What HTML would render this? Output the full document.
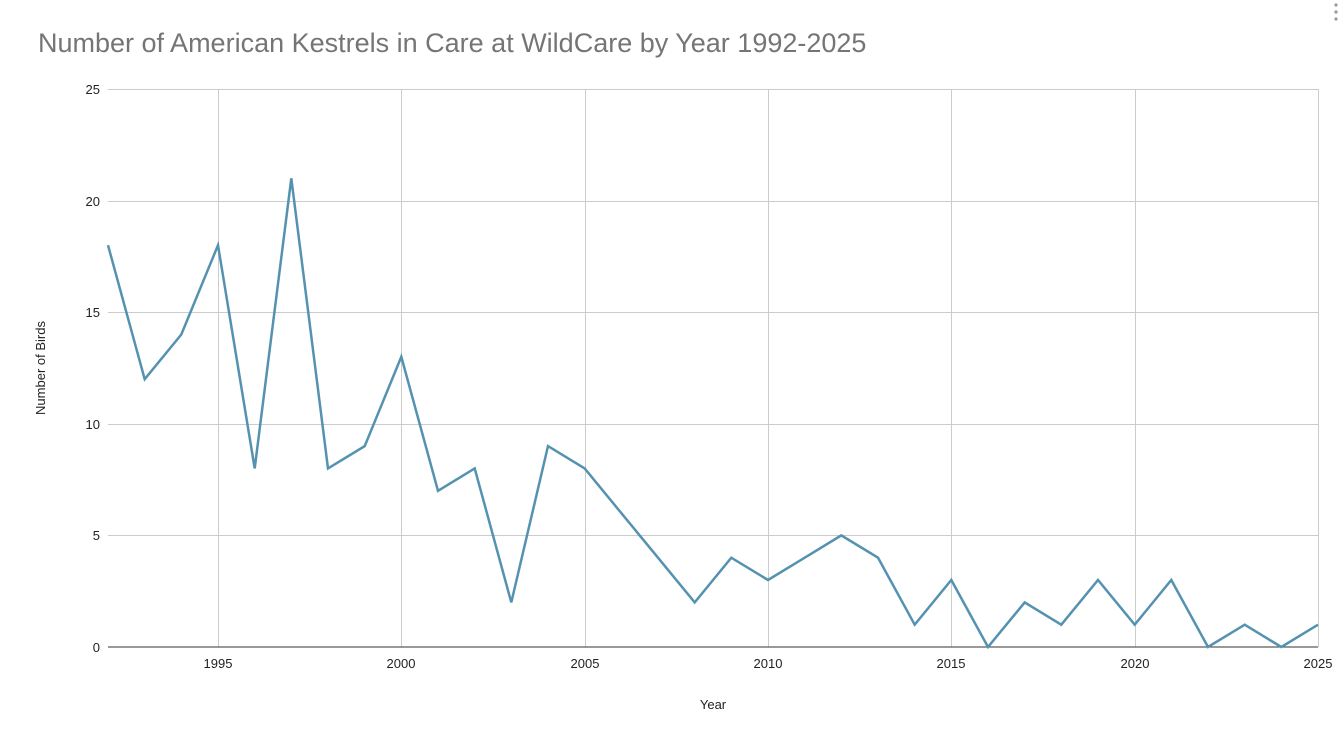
<!DOCTYPE html>
<html><head><style>body{margin:0;background:#fff}svg{display:block}text{font-family:"Liberation Sans",Arial,sans-serif}</style></head>
<body>
<svg width="1342" height="743" viewBox="0 0 1342 743" xmlns="http://www.w3.org/2000/svg">
<rect width="1342" height="743" fill="#fff"/>
<text x="38" y="52" font-size="27" fill="#757575">Number of American Kestrels in Care at WildCare by Year 1992-2025</text>
<g fill="#999"><circle cx="1336" cy="5" r="1.6"/><circle cx="1336" cy="12" r="1.6"/><circle cx="1336" cy="19" r="1.6"/></g>
<g stroke="#cccccc" stroke-width="1">
<line x1="108" y1="89.5" x2="1318" y2="89.5"/>
<line x1="108" y1="201.5" x2="1318" y2="201.5"/>
<line x1="108" y1="312.5" x2="1318" y2="312.5"/>
<line x1="108" y1="424.5" x2="1318" y2="424.5"/>
<line x1="108" y1="535.5" x2="1318" y2="535.5"/>
<line x1="218.5" y1="89" x2="218.5" y2="647"/>
<line x1="401.5" y1="89" x2="401.5" y2="647"/>
<line x1="585.5" y1="89" x2="585.5" y2="647"/>
<line x1="768.5" y1="89" x2="768.5" y2="647"/>
<line x1="951.5" y1="89" x2="951.5" y2="647"/>
<line x1="1135.5" y1="89" x2="1135.5" y2="647"/>
<line x1="1318.5" y1="89" x2="1318.5" y2="647"/>
</g>
<line x1="108" y1="647" x2="1318" y2="647" stroke="#333" stroke-width="1"/>
<g font-size="13" fill="#222" text-anchor="end">
<text x="100" y="94">25</text><text x="100" y="206">20</text><text x="100" y="317">15</text><text x="100" y="429">10</text><text x="100" y="540">5</text><text x="100" y="652">0</text>
</g>
<g font-size="13" fill="#222" text-anchor="middle">
<text x="218" y="668">1995</text><text x="401" y="668">2000</text><text x="585" y="668">2005</text><text x="768" y="668">2010</text><text x="951" y="668">2015</text><text x="1135" y="668">2020</text><text x="1318" y="668">2025</text>
<text x="713" y="709">Year</text>
</g>
<text transform="translate(45,368) rotate(-90)" font-size="13" fill="#222" text-anchor="middle">Number of Birds</text>
<polyline fill="none" stroke="#5592b0" stroke-width="2.5" stroke-linejoin="miter" points="108,245.2 144.7,379.2 181.3,334.5 218,245.2 254.7,468.4 291.3,178.3 328,468.4 364.7,446.1 401.3,356.8 438,490.8 474.7,468.4 511.3,602.4 548,446.1 584.7,468.4 621.3,513.1 658,557.7 694.7,602.4 731.3,557.7 768,580.0 804.7,557.7 841.3,535.4 878,557.7 914.7,624.7 951.3,580.0 988,647 1024.7,602.4 1061.3,624.7 1098,580.0 1134.7,624.7 1171.3,580.0 1208,647 1244.7,624.7 1281.3,647 1318,624.7"/>
</svg>
</body></html>
